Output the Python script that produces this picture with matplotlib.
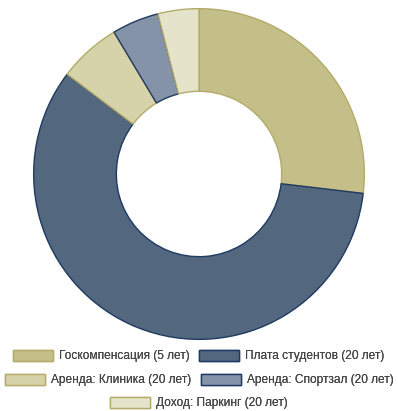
import matplotlib.pyplot as plt
from matplotlib.patches import Patch

plt.rcParams['font.family'] = ['Liberation Sans', 'DejaVu Sans']

labels = ["Госкомпенсация (5 лет)", "Плата студентов (20 лет)",
          "Аренда: Клиника (20 лет)", "Аренда: Спортзал (20 лет)",
          "Доход: Паркинг (20 лет)"]
values = [26.9, 58.5, 6.1, 4.6, 4.0]
colors = ["#c4bf88", "#53677f", "#d6d2a9", "#8593a8", "#e5e3ca"]
edges = ["#b3ab68", "#1f3a60", "#b3ab68", "#1f3a60", "#b3ab68"]

W, H = 398, 411
fig = plt.figure(figsize=(W / 100, H / 100), dpi=100)

cx, cy, R = 199, 174, 167
ax = fig.add_axes([(cx - R) / W, (H - cy - R) / H, 2 * R / W, 2 * R / H])
wedges, _ = ax.pie(values, colors=colors, startangle=90, counterclock=False,
                   radius=1, wedgeprops=dict(width=0.5, linewidth=1))
for w, e in zip(wedges, edges):
    w.set_edgecolor(e)
ax.set_xlim(-1.01, 1.01)
ax.set_ylim(-1.01, 1.01)
ax.set_aspect('equal')
ax.axis('off')

handles = [Patch(facecolor=c, edgecolor=e, linewidth=1) for c, e in zip(colors, edges)]

fs = 8.6
rows = [([0, 1], 356), ([2, 3], 380), ([4], 403)]
for idx, y in rows:
    leg = fig.legend([handles[i] for i in idx], [labels[i] for i in idx],
                     loc='center', bbox_to_anchor=(0.5, 1 - y / H), ncol=len(idx),
                     frameon=False, fontsize=fs, handlelength=3.35, handleheight=1.1,
                     handletextpad=0.5, columnspacing=0.8, borderpad=0, borderaxespad=0)
    for t in leg.get_texts():
        t.set_color('#444444')
    fig.add_artist(leg)

fig.savefig('out.png', dpi=100)
